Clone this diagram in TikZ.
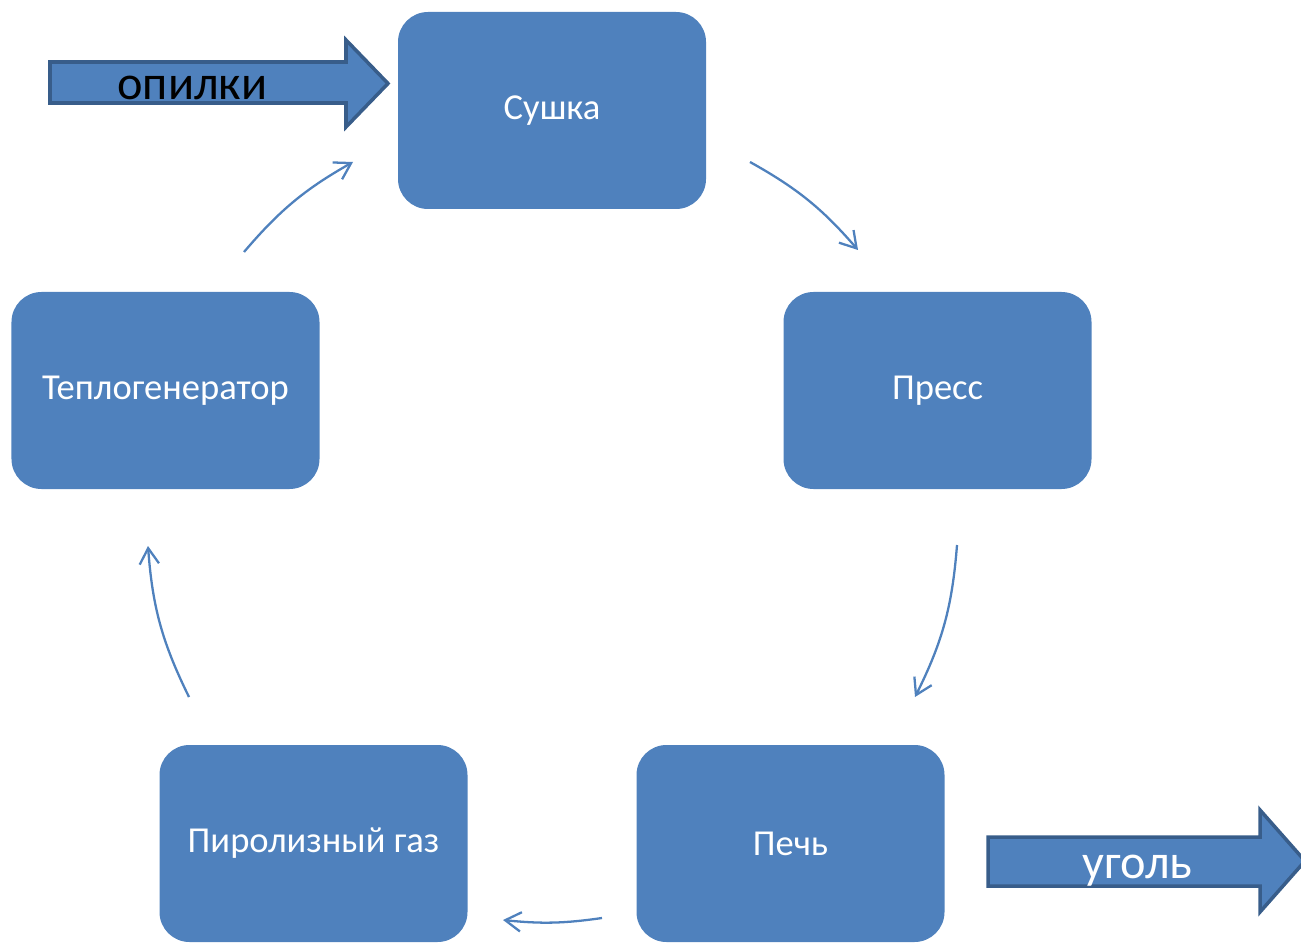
\documentclass[tikz,border=0pt]{standalone}
\usepackage{fontspec}
\setmainfont{Carlito}
\usepackage{tikz}
\usetikzlibrary{arrows.meta}
\definecolor{boxblue}{HTML}{4F81BD}
\definecolor{rimblue}{HTML}{385D8A}
\begin{document}
\begin{tikzpicture}[->, >={Straight Barb[length=9pt, width=11pt]}]
\tikzstyle{stage} = [rectangle, rounded corners=0.6cm, fill=boxblue, text=white, minimum width=6.16cm, minimum height=3.94cm, inner sep=0pt, font=\fontsize{20.8}{24}\selectfont]
\tikzstyle{flow} = [draw=boxblue, line width=1.3pt]
\tikzstyle{fat} = [draw=rimblue, fill=boxblue, line width=2pt, line join=miter]
\tikzstyle{tag} = [anchor=base, inner sep=0pt, font=\fontsize{27.5}{32}\selectfont]

\useasboundingbox (0,0) rectangle (26.02,18.84);

% stages of the cycle
\node[stage] (Su) at (11.04,16.63) {Сушка};
\node[stage] (Pr) at (18.75,11.03) {Пресс};
\node[stage] (Pe) at (15.81,1.97) {Печь};
\node[stage] (Ga) at (6.27,1.97) {Пиролизный газ};
\node[stage] (Te) at (3.31,11.03) {Теплогенератор};

% ends of the curved connectors
\coordinate (a1) at (15.00,15.60);
\coordinate (b1) at (17.16,13.84);
\coordinate (a2) at (19.14,7.94);
\coordinate (b2) at (18.30,4.90);
\coordinate (a3) at (12.04,0.48);
\coordinate (b3) at (10.06,0.44);
\coordinate (a4) at (3.78,4.90);
\coordinate (b4) at (2.96,7.92);
\coordinate (a5) at (4.88,13.80);
\coordinate (b5) at (7.06,15.60);

\draw[flow] (a1) to[bend left=10] (b1);
\draw[flow] (a2) to[bend left=11] (b2);
\draw[flow] (a3) to[bend left=7] (b3);
\draw[flow] (a4) to[bend left=11] (b4);
\draw[flow] (a5) to[bend left=10] (b5);

% input and output
\draw[fat, -] (1.00,17.60) -- (6.92,17.60) -- (6.92,18.04) -- (7.76,17.17)
  -- (6.92,16.30) -- (6.92,16.78) -- (1.00,16.78) -- cycle;
\node[tag, text=black] (In) at (3.85,16.84) {опилки};

\draw[fat, -] (19.76,2.10) -- (25.20,2.10) -- (25.20,2.64) -- (26.10,1.62)
  -- (25.20,0.60) -- (25.20,1.12) -- (19.76,1.12) -- cycle;
\node[tag, text=white] (Out) at (22.75,1.28) {уголь};
\end{tikzpicture}
\end{document}
